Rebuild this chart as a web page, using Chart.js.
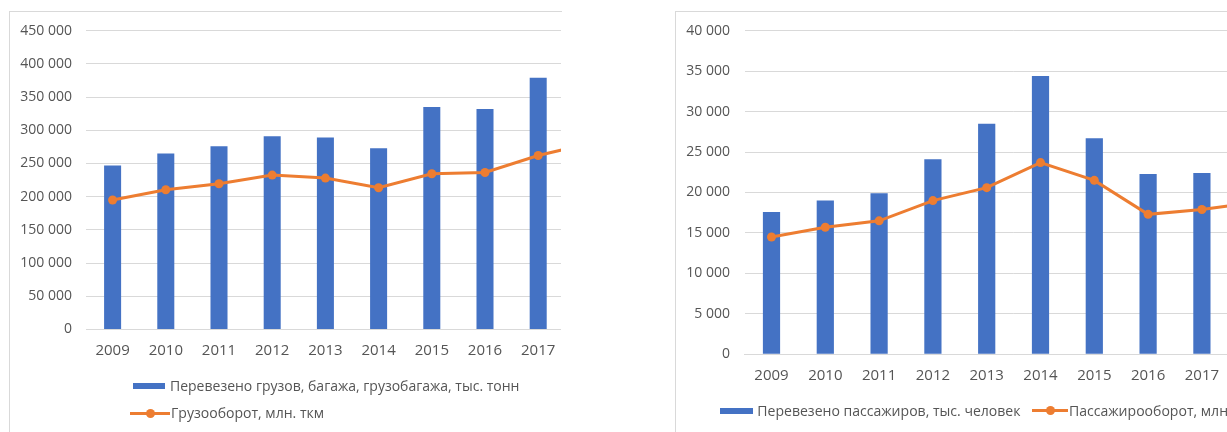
<!DOCTYPE html>
<html>
<head>
<meta charset="utf-8">
<script src="https://cdn.jsdelivr.net/npm/chart.js@4.4.1/dist/chart.umd.min.js"></script>
<style>
  html, body { margin: 0; padding: 0; background: #fff; width: 1227px; height: 432px; overflow: hidden; }
  body { position: relative; font-family: "Open Sans", sans-serif; color: #555; }
  .clip { position: absolute; overflow: hidden; }
  .frame { position: absolute; border-left: 1px solid #d9d9d9; border-top: 1px solid #d9d9d9; }
  .box { position: absolute; background: #4472C4; }
  .ln { position: absolute; background: #ED7D31; height: 3px; }
  .dot { position: absolute; width: 9px; height: 9px; border-radius: 50%; background: #ED7D31; }
  .txt { position: absolute; font-size: 14px; line-height: 20px; white-space: nowrap; color: #555; }
</style>
</head>
<body>
<div class="frame" style="left:9px;top:11px;width:552px;height:440px"></div>
<div class="frame" style="left:675px;top:11px;width:600px;height:440px"></div>

<div class="clip" style="left:0;top:0;width:561px;height:432px">
  <canvas id="freight" style="position:absolute;left:0;top:0"></canvas>
</div>
<div class="clip" style="left:627px;top:0;width:600px;height:432px">
  <canvas id="passenger" style="position:absolute;left:0;top:0"></canvas>
</div>

<div id="legends"></div>

<script>
// 2018 is only partly visible: the picture is cut just after 2017
var years = ['2009', '2010', '2011', '2012', '2013', '2014', '2015', '2016', '2017', '2018'];

var freightLabel = 'Перевезено грузов, багажа, грузобагажа, тыс. тонн';
var freightTons = [247000, 265000, 276000, 291000, 289000, 273000, 335000, 332000, 379000];
var freightTurnoverLabel = 'Грузооборот, млн. ткм';
var freightTurnover = [195000, 210500, 219500, 232500, 228000, 213500, 234500, 236500, 262000, 281000];

var passLabel = 'Перевезено пассажиров, тыс. человек';
var passengers = [17600, 19000, 19900, 24100, 28500, 34400, 26700, 22300, 22400];
var passTurnoverLabel = 'Пассажирооборот, млн. пасс-км';
var passTurnover = [14500, 15700, 16500, 19000, 20600, 23700, 21500, 17300, 17900, 18800];

var freightAxis = [0, 450000, 50000];   // min, max, step
var passAxis = [0, 40000, 5000];

function fmt(v) {
  return String(v).replace(/\B(?=(\d{3})+(?!\d))/g, '\u00a0');
}

function makeChart(id, w, barLabel, bars, lineLabel, line, axis, yWidth, yPad, padRight, padBottom, xPad) {
  var cv = document.getElementById(id);
  cv.width = w; cv.height = 432;
  cv.style.width = w + 'px'; cv.style.height = '432px';
  return new Chart(cv.getContext('2d'), {
    type: 'bar',
    data: {
      labels: years,
      datasets: [{
        type: 'line',
        label: lineLabel,
        data: line,
        borderColor: '#ED7D31',
        backgroundColor: '#ED7D31',
        borderWidth: 3,
        pointRadius: 4.5,
        pointBorderWidth: 0,
        pointBackgroundColor: '#ED7D31',
        tension: 0,
        clip: false,
        order: 0
      }, {
        label: barLabel,
        data: bars,
        backgroundColor: '#4472C4',
        barPercentage: 0.32,
        categoryPercentage: 1,
        order: 1
      }]
    },
    options: {
      responsive: false,
      animation: false,
      layout: { padding: { left: 0, top: 30.7, right: padRight, bottom: padBottom } },
      plugins: { legend: { display: false }, tooltip: { enabled: false } },
      scales: {
        x: {
          grid: { display: false, drawTicks: false },
          border: { color: '#d9d9d9' },
          ticks: { color: '#555', padding: xPad, maxRotation: 0, autoSkip: false, font: { family: 'Open Sans', size: 15 } },
          afterFit: function (s) { s.height = 40; }
        },
        y: {
          min: axis[0], max: axis[1],
          grid: { color: '#d9d9d9', drawTicks: false },
          border: { display: false },
          ticks: {
            stepSize: axis[2], padding: yPad, color: '#555',
            font: { family: 'Open Sans', size: 14 },
            callback: function (v) { return fmt(v); }
          },
          afterFit: function (s) { s.width = yWidth; }
        }
      }
    }
  });
}

// chart area: left 86 -> 618 (10 categories), top 30.7, bottom 329.5
makeChart('freight', 640, freightLabel, freightTons, freightTurnoverLabel, freightTurnover,
  freightAxis, 86, 14, 22, 62.5, 12);
// chart area: left 744.6 -> 1282.6, top 30.7, bottom 354.3
makeChart('passenger', 680, passLabel, passengers, passTurnoverLabel, passTurnover,
  passAxis, 117.6, 14.6, 24.4, 37.7, 12.7);

// legends, Excel style
function el(cls, css, text) {
  var d = document.createElement('div');
  d.className = cls;
  d.style.cssText = css;
  if (text) d.textContent = text;
  document.getElementById('legends').appendChild(d);
  return d;
}
function label(x, cy, text, width) {
  var t = el('txt', 'left:' + x + 'px;top:' + (cy - 10) + 'px', text);
  if (width) t.style.fontSize = (14 * width / t.offsetWidth).toFixed(2) + 'px';
  return t;
}
function barItem(x, w, cy, text, tx, width) {
  el('box', 'left:' + x + 'px;top:' + (cy - 3) + 'px;width:' + w + 'px;height:6px');
  return label(tx, cy, text, width);
}
function lineItem(x, w, cy, text, tx, width) {
  el('ln', 'left:' + x + 'px;top:' + (cy - 1.5) + 'px;width:' + w + 'px');
  el('dot', 'left:' + (x + w / 2 - 4.5) + 'px;top:' + (cy - 4.5) + 'px');
  return label(tx, cy, text, width);
}
barItem(133, 32, 385.5, freightLabel, 170, 349);
lineItem(130, 40, 413.3, freightTurnoverLabel, 171, 153.5);
var r = barItem(720, 33, 410.7, passLabel, 757.3, 263);
var r2 = lineItem(1031.7, 36.6, 410.7, passTurnoverLabel, 1069);
r2.style.fontSize = r.style.fontSize;
</script>
</body>
</html>
